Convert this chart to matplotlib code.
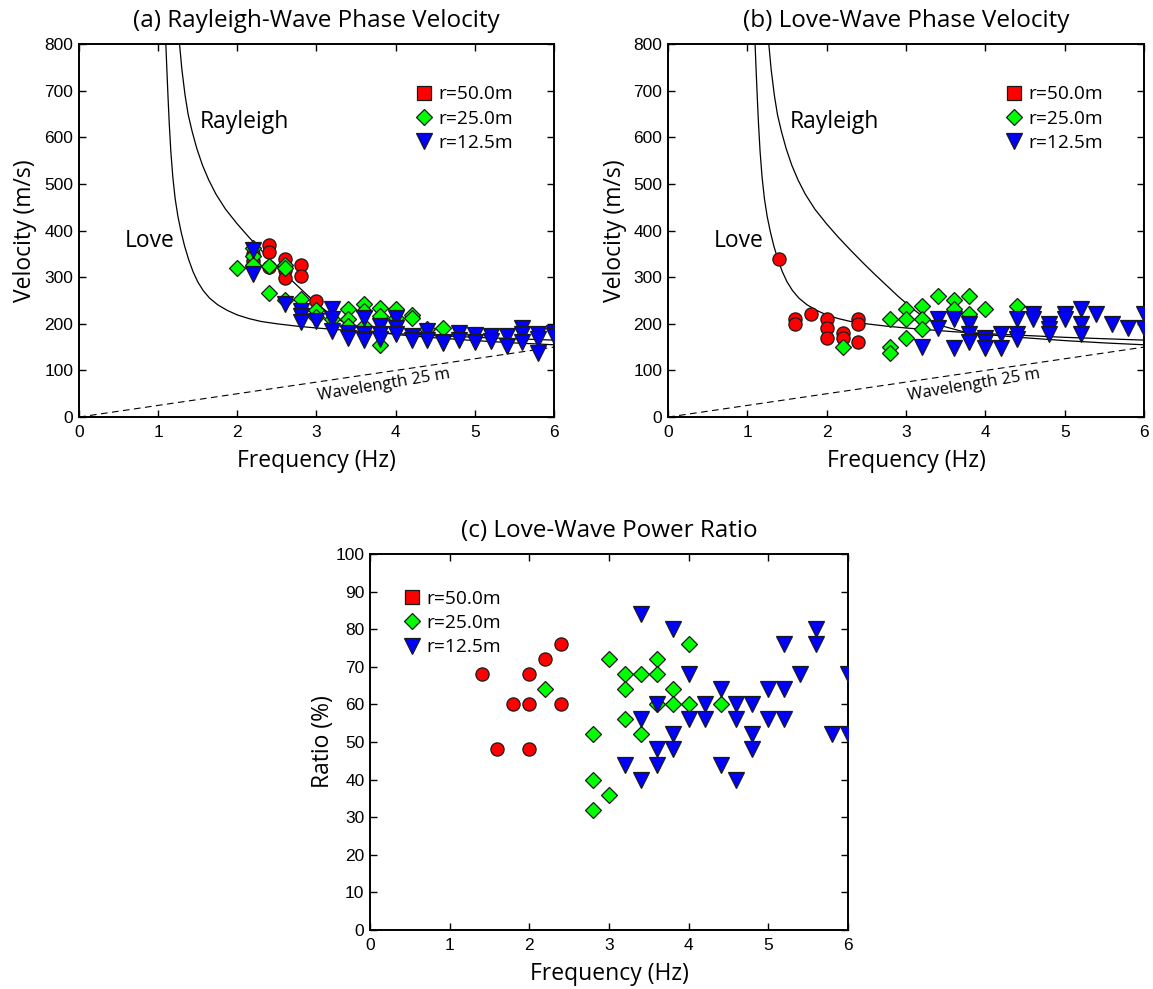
import matplotlib
matplotlib.use("Agg")
import matplotlib.pyplot as plt
from matplotlib.lines import Line2D
import numpy as np

# ---- theoretical dispersion curves (frequency Hz, phase velocity m/s) ----
love_f = [1.097, 1.11, 1.125, 1.14, 1.16, 1.185, 1.215, 1.25, 1.29, 1.335, 1.385,
          1.44, 1.50, 1.57, 1.65, 1.75, 1.87, 2.00, 2.15, 2.30, 2.50, 2.75, 3.00,
          3.30, 3.60, 4.00, 4.50, 5.00, 5.50, 6.00]
love_v = [800, 745, 685, 630, 570, 515, 468, 430, 397, 366, 338,
          312, 290, 271, 255, 241, 229, 219, 211, 205, 200, 195, 191,
          187, 183, 179, 175, 171, 168, 165]

rayl_f = [1.27, 1.30, 1.34, 1.38, 1.43, 1.49, 1.56, 1.64, 1.73, 1.85, 2.00, 2.15,
          2.30, 2.45, 2.60, 2.75, 2.90, 3.05, 3.20, 3.40, 3.70, 4.00, 4.50, 5.00,
          5.50, 6.00]
rayl_v = [800, 745, 690, 648, 612, 575, 540, 508, 478, 446, 414, 385,
          358, 332, 307, 283, 259, 237, 217, 198, 184, 177, 170, 164,
          159, 155]

wavelength_m = 25.0

# ---- (a) Rayleigh-wave phase velocity ----
ra_f50 = [2.2, 2.2, 2.4, 2.4, 2.4, 2.6, 2.6, 2.6, 2.8, 2.8, 2.8, 3.0]
ra_v50 = [350, 335, 370, 355, 322, 338, 315, 298, 327, 302, 232, 248]

ra_f25 = [2.0, 2.2, 2.2, 2.2, 2.4, 2.4, 2.6, 2.6, 2.6, 2.8, 3.0, 3.0, 3.2,
          3.4, 3.4, 3.4, 3.6, 3.6, 3.6, 3.8, 3.8, 3.8, 4.0, 4.0, 4.2, 4.2, 4.4, 4.6]
ra_v25 = [320, 362, 345, 327, 324, 265, 327, 320, 252, 254, 229, 215, 210,
          232, 210, 195, 243, 227, 195, 234, 217, 155, 231, 213, 218, 213, 188, 190]

ra_f12 = [2.2, 2.2, 2.6, 2.8, 2.8, 2.8, 3.0, 3.2, 3.2, 3.2, 3.4, 3.4, 3.6, 3.6, 3.6,
          3.8, 3.8, 3.8, 4.0, 4.0, 4.0, 4.2, 4.2, 4.4, 4.4, 4.6, 4.6, 4.8, 4.8,
          5.0, 5.0, 5.2, 5.2, 5.4, 5.4, 5.6, 5.6, 5.6, 5.8, 5.8, 5.8, 6.0, 6.0]
ra_v12 = [359, 306, 242, 228, 217, 203, 206, 232, 210, 185, 181, 170, 213, 178, 165,
          195, 178, 167, 213, 192, 178, 174, 165, 184, 165, 161, 158, 181, 165,
          175, 161, 174, 163, 174, 152, 192, 178, 160, 178, 167, 138, 181, 174]

# ---- (b) Love-wave phase velocity ----
lo_f50 = [1.4, 1.6, 1.6, 1.8, 2.0, 2.0, 2.0, 2.2, 2.2, 2.4, 2.4, 2.4]
lo_v50 = [340, 210, 200, 220, 210, 190, 169, 180, 170, 210, 199, 160]

lo_f25 = [2.2, 2.8, 2.8, 2.8, 3.0, 3.0, 3.0, 3.2, 3.2, 3.2, 3.4, 3.6, 3.6,
          3.8, 3.8, 4.0, 4.4]
lo_v25 = [151, 210, 151, 138, 231, 210, 169, 238, 210, 188, 260, 252, 231,
          260, 220, 231, 238]

lo_f12 = [3.2, 3.4, 3.4, 3.6, 3.6, 3.8, 3.8, 3.8, 4.0, 4.0, 4.0, 4.2, 4.2,
          4.4, 4.4, 4.4, 4.6, 4.6, 4.8, 4.8, 4.8, 5.0, 5.0, 5.2, 5.2, 5.2,
          5.4, 5.6, 5.8, 6.0, 6.0]
lo_v12 = [151, 210, 192, 210, 149, 199, 178, 160, 170, 160, 149, 178, 149,
          211, 178, 167, 220, 211, 199, 188, 178, 220, 211, 231, 199, 178,
          220, 199, 190, 220, 190]

# ---- (c) Love-wave power ratio (%) ----
pr_f50 = [1.4, 1.6, 1.8, 2.0, 2.0, 2.0, 2.2, 2.4, 2.4]
pr_r50 = [68, 48, 60, 68, 60, 48, 72, 76, 60]

pr_f25 = [2.2, 2.8, 2.8, 2.8, 3.0, 3.0, 3.2, 3.2, 3.2, 3.4, 3.4, 3.6, 3.6, 3.6,
          3.8, 3.8, 4.0, 4.0, 4.4]
pr_r25 = [64, 52, 40, 32, 72, 36, 68, 64, 56, 68, 52, 72, 68, 60,
          64, 60, 76, 60, 60]

pr_f12 = [3.2, 3.4, 3.4, 3.4, 3.6, 3.6, 3.6, 3.8, 3.8, 3.8, 4.0, 4.0, 4.2, 4.2,
          4.4, 4.4, 4.6, 4.6, 4.6, 4.8, 4.8, 4.8, 5.0, 5.0, 5.2, 5.2, 5.2,
          5.4, 5.6, 5.6, 5.8, 6.0, 6.0]
pr_r12 = [44, 84, 56, 40, 60, 48, 44, 80, 52, 48, 68, 56, 60, 56,
          64, 44, 60, 56, 40, 60, 52, 48, 64, 56, 76, 64, 56,
          68, 80, 76, 52, 68, 52]

legend_labels = ["r=50.0m", "r=25.0m", "r=12.5m"]

RED, GREEN, BLUE = "#ff0000", "#00ff00", "#0000ff"
EDGE = "#1a1a1a"
TEXT_FONT = ["Open Sans", "DejaVu Sans"]
TICK_FONT = ["Liberation Sans Narrow", "Liberation Sans", "DejaVu Sans"]

fig = plt.figure(figsize=(11.53, 9.89), dpi=100)

ax_a = fig.add_axes([0.0685, 0.5783, 0.412, 0.3772])
ax_b = fig.add_axes([0.5794, 0.5783, 0.4128, 0.3772])
ax_c = fig.add_axes([0.3209, 0.0597, 0.4146, 0.3802])


def style_axes(ax, ymax, ystep, ylabel, ylabelpad):
    ax.set_xlim(0, 6)
    ax.set_ylim(0, ymax)
    ax.set_xticks(np.arange(0, 7, 1))
    ax.set_yticks(np.arange(0, ymax + 1, ystep))
    ax.tick_params(direction="in", top=True, right=True, length=5, width=1,
                   labelsize=12.5, pad=4)
    ax.tick_params(axis="x", pad=6)
    for lab in ax.get_xticklabels() + ax.get_yticklabels():
        lab.set_family(TICK_FONT)
    for sp in ax.spines.values():
        sp.set_linewidth(1.4)
    ax.set_xlabel("Frequency (Hz)", fontsize=16.5, family=TEXT_FONT, labelpad=6)
    ax.set_ylabel(ylabel, fontsize=16.5, family=TEXT_FONT, labelpad=ylabelpad)


def scatter_sets(ax, f50, v50, f25, v25, f12, v12):
    ax.plot(f50, v50, "o", ms=9.5, mfc=RED, mec=EDGE, mew=0.9, ls="none", zorder=3)
    ax.plot(f25, v25, "D", ms=8.5, mfc=GREEN, mec=EDGE, mew=0.9, ls="none", zorder=4)
    ax.plot(f12, v12, "v", ms=11, mfc=BLUE, mec=EDGE, mew=0.9, ls="none", zorder=5)


def add_legend(ax, loc, anchor):
    handles = [
        Line2D([], [], marker="s", ls="none", ms=9.5, mfc=RED, mec=EDGE, mew=0.9),
        Line2D([], [], marker="D", ls="none", ms=8.5, mfc=GREEN, mec=EDGE, mew=0.9),
        Line2D([], [], marker="v", ls="none", ms=11, mfc=BLUE, mec=EDGE, mew=0.9),
    ]
    ax.legend(handles, legend_labels, loc=loc, bbox_to_anchor=anchor, frameon=False,
              handlelength=0.8, handletextpad=0.35, labelspacing=0.33, borderaxespad=0,
              prop={"family": TEXT_FONT, "size": 13.8})


def velocity_panel(ax, title, f50, v50, f25, v25, f12, v12):
    ax.plot(love_f, love_v, color="black", lw=0.9, zorder=2)
    ax.plot(rayl_f, rayl_v, color="black", lw=0.9, zorder=2)
    fw = np.array([0.0, 6.0])
    ax.plot(fw, wavelength_m * fw, color="black", lw=0.8, ls=(0, (6, 4)), zorder=1)
    ax.text(3.85, 68, "Wavelength 25 m", fontsize=12, family=TEXT_FONT,
            rotation=9.5, ha="center", va="center")
    ax.text(1.53, 632, "Rayleigh", fontsize=16.5, family=TEXT_FONT, ha="left", va="center")
    ax.text(0.58, 378, "Love", fontsize=16.5, family=TEXT_FONT, ha="left", va="center")
    scatter_sets(ax, f50, v50, f25, v25, f12, v12)
    style_axes(ax, 800, 100, "Velocity (m/s)", 5)
    ax.set_title(title, fontsize=17.5, family=TEXT_FONT, pad=12)
    add_legend(ax, "upper right", (0.93, 0.91))


velocity_panel(ax_a, "(a) Rayleigh-Wave Phase Velocity",
               ra_f50, ra_v50, ra_f25, ra_v25, ra_f12, ra_v12)
velocity_panel(ax_b, "(b) Love-Wave Phase Velocity",
               lo_f50, lo_v50, lo_f25, lo_v25, lo_f12, lo_v12)

scatter_sets(ax_c, pr_f50, pr_r50, pr_f25, pr_r25, pr_f12, pr_r12)
style_axes(ax_c, 100, 10, "Ratio (%)", 0)
ax_c.set_title("(c) Love-Wave Power Ratio", fontsize=17.5, family=TEXT_FONT, pad=12)
add_legend(ax_c, "upper left", (0.055, 0.925))

fig.savefig("out.png", dpi=100, facecolor="white")
